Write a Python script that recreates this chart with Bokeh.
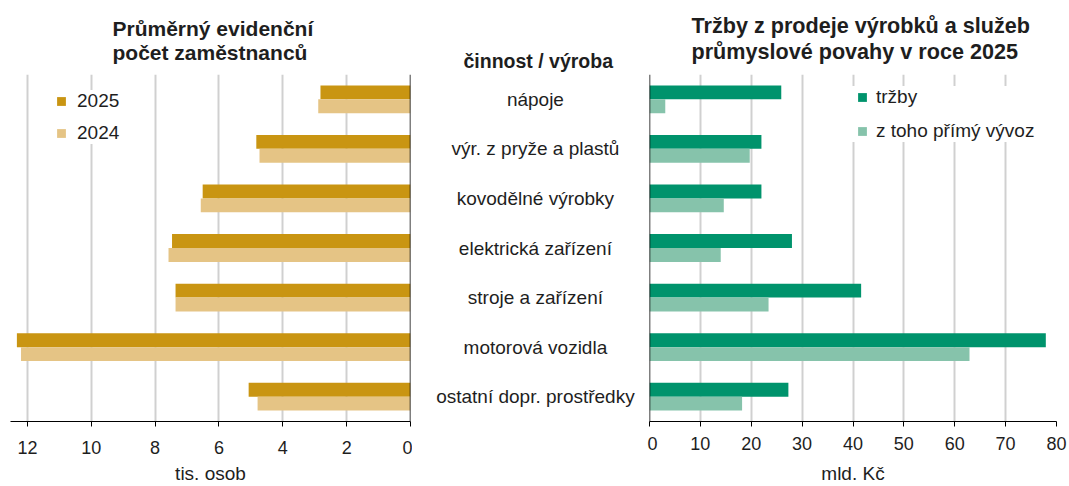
from bokeh.plotting import figure
from bokeh.models import (Range1d, FactorRange, FixedTicker, Span, Title, Legend,
                          LegendItem, ColumnDataSource)
from bokeh.transform import dodge
from bokeh.layouts import row
from bokeh.embed import file_html
from bokeh.resources import INLINE
from bokeh.core.properties import value

# ---------------- data ----------------
categories = ["nápoje", "výr. z pryže a plastů", "kovodělné výrobky",
              "elektrická zařízení", "stroje a zařízení", "motorová vozidla",
              "ostatní dopr. prostředky"]
employees_2025 = [2.82, 4.83, 6.51, 7.47, 7.36, 12.33, 5.07]   # tis. osob
employees_2024 = [2.89, 4.73, 6.57, 7.58, 7.36, 12.20, 4.79]
sales_total = [25.9, 22.0, 22.0, 28.0, 41.6, 77.9, 27.3]        # mld. Kč
sales_export = [3.1, 19.7, 14.6, 14.0, 23.4, 62.9, 18.2]
left_ticks = [0, 2, 4, 6, 8, 10, 12]
right_ticks = [0, 10, 20, 30, 40, 50, 60, 70, 80]

# ---------------- style ----------------
FONT = "Liberation Sans"
TXT = "#1e1e1e"
GOLD = "#C99512"
GOLD_L = "#E5C485"
GREEN = "#00936C"
GREEN_L = "#86C3AB"
GRID = "#d0d0d0"
TOP, BOTTOM = 72, 65

factors = list(reversed(categories))
src = ColumnDataSource(dict(cat=categories, e25=employees_2025, e24=employees_2024,
                            tot=sales_total, exp=sales_export))


def style_xaxis(p, ticks, label, tick_standoff, label_standoff):
    ax = p.xaxis[0]
    ax.ticker = FixedTicker(ticks=ticks)
    ax.minor_tick_line_color = None
    ax.axis_line_color = "black"
    ax.major_tick_line_color = "black"
    ax.major_tick_out = 5
    ax.major_tick_in = 0
    ax.major_label_standoff = tick_standoff
    ax.major_label_text_font = FONT
    ax.major_label_text_font_size = "18px"
    ax.major_label_text_color = TXT
    ax.axis_label = label
    ax.axis_label_standoff = label_standoff
    ax.axis_label_text_font = FONT
    ax.axis_label_text_font_size = "19px"
    ax.axis_label_text_font_style = "normal"
    ax.axis_label_text_color = TXT
    p.xgrid.grid_line_color = GRID
    p.xgrid.grid_line_width = 2
    p.ygrid.grid_line_color = None


def add_title(p, text, standoff, size="21px", offset=0, line_height=1.0):
    p.add_layout(Title(text=text, align="left", offset=offset, text_font=FONT,
                       text_font_size=size, text_font_style="bold",
                       text_line_height=line_height, text_color=TXT,
                       standoff=standoff), "above")


def add_legend(p, labels, renderers, loc, pad, spacing, standoff):
    leg = Legend(items=[LegendItem(label=l, renderers=[r]) for l, r in zip(labels, renderers)],
                 location=loc, padding=pad, spacing=spacing, margin=0,
                 glyph_width=22, glyph_height=22, label_height=22,
                 label_standoff=standoff, border_line_color=None,
                 background_fill_color="white", background_fill_alpha=1,
                 label_text_font=FONT, label_text_font_size="19px",
                 label_text_color=TXT)
    p.add_layout(leg, "center")


# ---------------- left: employees ----------------
p1 = figure(width=412, height=486, x_range=Range1d(12.53, 0),
            y_range=FactorRange(factors=factors), y_axis_location=None,
            toolbar_location=None, output_backend="svg",
            min_border_left=10, min_border_right=2, min_border_top=TOP,
            min_border_bottom=BOTTOM, outline_line_color=None)
p1.hbar(y=dodge("cat", 0.14, range=p1.y_range), left=0, right="e25", height=0.28,
        color=GOLD, line_color=None, source=src)
p1.hbar(y=dodge("cat", -0.14, range=p1.y_range), left=0, right="e24", height=0.28,
        color=GOLD_L, line_color=None, source=src)
style_xaxis(p1, left_ticks, "tis. osob", 14, 6)
p1.add_layout(Span(location=0, dimension="height", line_color="black", line_width=1.5))
# legend keys (size-0 markers, only their legend glyphs are visible)
k1a = p1.scatter(x="e25", y="cat", size=0, marker="square", fill_color=GOLD,
                 line_color=None, source=src)
k1b = p1.scatter(x="e24", y="cat", size=0, marker="square", fill_color=GOLD_L,
                 line_color=None, source=src)
add_legend(p1, ["2025", "2024"], [k1a, k1b], (40, 277), 5, 10, 5)
add_title(p1, "Průměrný evidenční\npočet zaměstnanců", 21, offset=102, line_height=1.06)

# ---------------- middle: category labels ----------------
p2 = figure(width=235, height=486, x_range=Range1d(0, 1),
            y_range=FactorRange(factors=factors), x_axis_location=None,
            y_axis_location=None, toolbar_location=None, output_backend="svg",
            min_border_left=0, min_border_right=0, min_border_top=TOP,
            min_border_bottom=BOTTOM, outline_line_color=None)
p2.xgrid.grid_line_color = None
p2.ygrid.grid_line_color = None
p2.text(x=0.523, y="cat", text="cat", source=src, text_align="center",
        text_baseline="middle", text_font=value(FONT), text_font_size="19px",
        text_color=TXT)
add_title(p2, "činnost / výroba", 6, size="19.5px", offset=51)

# ---------------- right: sales ----------------
p3 = figure(width=422, height=486, x_range=Range1d(0, 80),
            y_range=FactorRange(factors=factors), y_axis_location=None,
            toolbar_location=None, output_backend="svg",
            min_border_left=2, min_border_right=13, min_border_top=TOP,
            min_border_bottom=BOTTOM, outline_line_color=None)
p3.hbar(y=dodge("cat", 0.14, range=p3.y_range), left=0, right="tot", height=0.28,
        color=GREEN, line_color=None, source=src)
p3.hbar(y=dodge("cat", -0.14, range=p3.y_range), left=0, right="exp", height=0.28,
        color=GREEN_L, line_color=None, source=src)
style_xaxis(p3, right_ticks, "mld. Kč", 10, 10)
p3.add_layout(Span(location=0, dimension="height", line_color="black", line_width=1.5))
k3a = p3.scatter(x="tot", y="cat", size=0, marker="square", fill_color=GREEN,
                 line_color=None, source=src)
k3b = p3.scatter(x="exp", y="cat", size=0, marker="square", fill_color=GREEN_L,
                 line_color=None, source=src)
add_legend(p3, ["tržby", "z toho přímý vývoz"], [k3a, k3b], (202, 279), 6, 12, 3)
add_title(p3, "Tržby z prodeje výrobků a služeb\nprůmyslové povahy v roce 2025",
          21, size="21.6px", offset=42, line_height=1.04)

layout = row(p1, p2, p3)
open("out.html", "w").write(file_html(layout, INLINE))
